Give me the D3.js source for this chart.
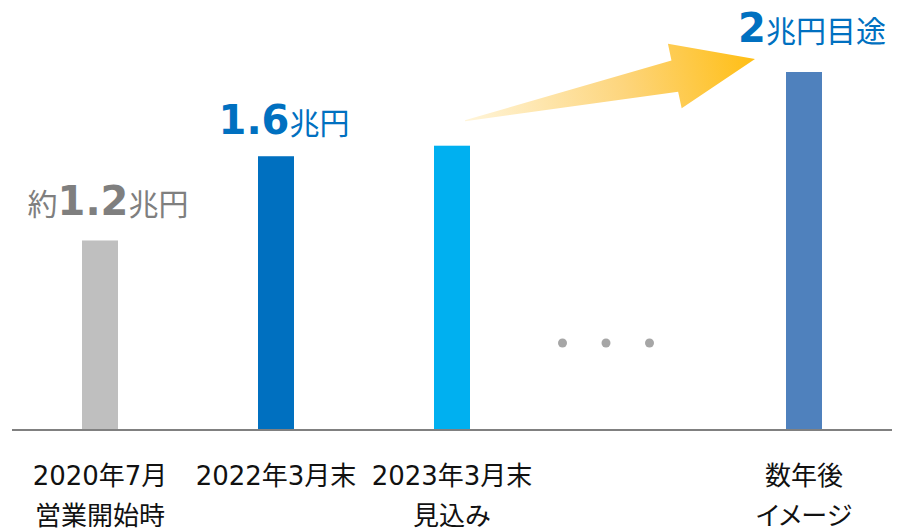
<!DOCTYPE html>
<html>
<head>
<meta charset="utf-8">
<script src="https://cdn.jsdelivr.net/npm/d3@7"></script>
<style>
  html, body { margin: 0; padding: 0; background: #fff; }
  svg { display: block; }
  .kana { font-feature-settings: "palt"; }
</style>
</head>
<body>
<svg id="chart" width="917" height="531"></svg>
<script>
// Periods along the axis; the fourth slot is the "・・・" gap before the outlook bar
const periods    = ["2020年7月", "2022年3月末", "2023年3月末", "gap", "数年後"];
const subLabels  = ["営業開始時", "", "見込み", "", "イメージ"];
const values     = [1.2, 1.6, 1.65, null, 2.0];          // 兆円
const barColors  = ["#BFBFBF", "#0070C0", "#00B0F0", null, "#4F81BD"];
// Value callouts: prefix / number / suffix (null = no callout)
const calloutPrefix = ["約", "", null, null, ""];
const calloutNumber = ["1.2", "1.6", null, null, "2"];
const calloutSuffix = ["兆円", "兆円", null, null, "兆円目途"];
const calloutColor  = ["#7F7F7F", "#0070C0", null, null, "#0070C0"];
const gapDots = [0, 1, 2];

const svg = d3.select("#chart");
const baseY = 430;

const x = d3.scalePoint().domain(periods).range([100, 804]);
const barW = 36;
const y = d3.scaleLinear().domain([0.3, 2.0]).range([baseY, 72]);

const cjk = "'Noto Sans CJK JP', 'Noto Sans', sans-serif";
const num = "'DejaVu Sans', Verdana, sans-serif";
const mixed = "'DejaVu Sans', 'Noto Sans CJK JP', sans-serif";

// Arrow gradient
const defs = svg.append("defs");
const grad = defs.append("linearGradient")
  .attr("id", "arrowGrad")
  .attr("gradientUnits", "userSpaceOnUse");
grad.append("stop").attr("offset", "0%").attr("stop-color", "#FFF5DA");
grad.append("stop").attr("offset", "55%").attr("stop-color", "#FDD57C");
grad.append("stop").attr("offset", "100%").attr("stop-color", "#FFBE14");

// Bars
const barData = periods.map((p, i) => ({ p, v: values[i], c: barColors[i], i }))
  .filter(d => d.v != null);

svg.append("g").selectAll("rect")
  .data(barData)
  .join("rect")
  .attr("x", d => x(d.p) - barW / 2)
  .attr("y", d => y(d.v))
  .attr("width", barW)
  .attr("height", d => baseY - y(d.v))
  .attr("fill", d => d.c);

// Baseline
svg.append("line")
  .attr("x1", 12).attr("x2", 892)
  .attr("y1", baseY).attr("y2", baseY)
  .attr("stroke", "#808080").attr("stroke-width", 2);

// Growth arrow from the 2023 bar toward the outlook bar
const tail = [x(periods[2]) + barW / 2 - 5, y(values[2]) - 25];
const tip  = [x(periods[4]) - barW / 2 - 31, y(values[4]) - 13];
const dx = tip[0] - tail[0], dy = tip[1] - tail[1];
const len = Math.hypot(dx, dy);
const ux = dx / len, uy = dy / len;
const nx = uy, ny = -ux;   // normal pointing upward
const pt = (a, p) => [tail[0] + ux * a + nx * p, tail[1] + uy * a + ny * p];
const headBase = len - 82;
const arrowPts = [
  pt(0, 0.5), pt(headBase, 16), pt(headBase, 33), pt(len, 0),
  pt(headBase, -33), pt(headBase, -16), pt(0, -0.5)
];
grad.attr("x1", tail[0]).attr("y1", tail[1]).attr("x2", tip[0]).attr("y2", tip[1]);
svg.append("path")
  .attr("d", d3.line()(arrowPts) + "Z")
  .attr("fill", "url(#arrowGrad)");

// Gap dots
const gapStep = 43.5;
svg.append("g").selectAll("circle")
  .data(gapDots)
  .join("circle")
  .attr("cx", d => x(periods[3]) - 22 + (d - 1) * gapStep)
  .attr("cy", 343)
  .attr("r", 4.5)
  .attr("fill", "#A6A6A6");

// Value callouts
const callouts = periods.map((p, i) => ({ p, i }))
  .filter(d => calloutNumber[d.i] != null);
const gaps = [25, 22, 30];
callouts.forEach((d, k) => {
  const t = svg.append("text")
    .attr("x", x(d.p) + 8)
    .attr("y", y(values[d.i]) - gaps[k])
    .attr("text-anchor", "middle")
    .attr("fill", calloutColor[d.i]);
  if (calloutPrefix[d.i]) {
    t.append("tspan").attr("font-family", cjk).attr("font-size", 30)
      .text(calloutPrefix[d.i]);
  }
  t.append("tspan").attr("font-family", num).attr("font-weight", "bold")
    .attr("font-size", 40).text(calloutNumber[d.i]);
  t.append("tspan").attr("font-family", cjk).attr("font-size", 30)
    .text(calloutSuffix[d.i]);
});

// Category labels
const labels = svg.append("g")
  .attr("font-family", mixed)
  .attr("font-size", 26)
  .attr("fill", "#111")
  .attr("text-anchor", "middle");
periods.forEach((p, i) => {
  if (p === "gap") return;
  labels.append("text").attr("x", x(p)).attr("y", 485).text(p);
  if (subLabels[i]) {
    labels.append("text")
      .attr("class", /^[\u30A0-\u30FF]+$/.test(subLabels[i]) ? "kana" : null)
      .attr("x", x(p)).attr("y", 525).text(subLabels[i]);
  }
});
</script>
</body>
</html>
